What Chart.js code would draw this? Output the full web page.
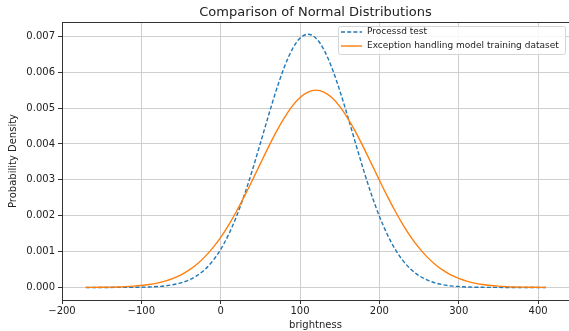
<!DOCTYPE html>
<html>
<head>
<meta charset="utf-8">
<script src="https://cdn.jsdelivr.net/npm/chart.js@4"></script>
<style>
  html, body { margin: 0; padding: 0; background: #fff; }
  canvas { display: block; }
</style>
</head>
<body>
<canvas id="normChart" width="569" height="331"></canvas>
<script>
'use strict';

// data -----------------------------------------
const brightness = [-170, -160, -150, -140, -130, -120, -110, -100, -90, -80, -70, -60, -50, -40, -30, -20, -10,
  0, 10, 20, 30, 40, 50, 60, 70, 80, 90, 100, 110, 120, 130, 140, 150, 160, 170, 180, 190, 200,
  210, 220, 230, 240, 250, 260, 270, 280, 290, 300, 310, 320, 330, 340, 350, 360, 370, 380, 390, 400, 410];

const processedTest = [0, 0.0000001, 0.0000002, 0.0000004, 0.0000009, 0.0000018, 0.0000036, 0.0000071, 0.0000134,
  0.0000247, 0.0000441, 0.0000764, 0.000128, 0.000208, 0.000328, 0.0005, 0.00074,
  0.001061, 0.001475, 0.001985, 0.002591, 0.003277, 0.004017, 0.004773, 0.005495, 0.006132, 0.006631, 0.00695,
  0.00706, 0.00695, 0.006631, 0.006132, 0.005495, 0.004773, 0.004017, 0.003277, 0.002591, 0.001985,
  0.001475, 0.001061, 0.00074, 0.0005, 0.000328, 0.000208, 0.000128, 0.0000764, 0.0000441, 0.0000247,
  0.0000134, 0.0000071, 0.0000036, 0.0000018, 0.0000009, 0.0000004, 0.0000002, 0.0000001, 0, 0, 0];

const trainingSet = [0.0000018, 0.0000032, 0.0000054, 0.0000089, 0.0000144, 0.0000229, 0.0000359, 0.0000551, 0.0000829,
  0.000122, 0.000177, 0.000252, 0.000352, 0.000482, 0.000647, 0.000852, 0.001102,
  0.001398, 0.00174, 0.002125, 0.002545, 0.002992, 0.003451, 0.003906, 0.004336, 0.004723, 0.005049, 0.005295,
  0.005448, 0.0055, 0.005448, 0.005295, 0.005049, 0.004723, 0.004336, 0.003906, 0.003451, 0.002992,
  0.002545, 0.002125, 0.00174, 0.001398, 0.001102, 0.000852, 0.000647, 0.000482, 0.000352, 0.000252,
  0.000177, 0.000122, 0.0000829, 0.0000551, 0.0000359, 0.0000229, 0.0000144, 0.0000089, 0.0000054, 0.0000032, 0.0000018];

const xTicks = [-200, -100, 0, 100, 200, 300, 400];
const yTicks = [0, 0.001, 0.002, 0.003, 0.004, 0.005, 0.006, 0.007];

const seriesNames = ['Processd test', 'Exception handling model training dataset'];
const chartTitle = 'Comparison of Normal Distributions';

// styles --------------------
const FONT = 'DejaVu Sans';
const BLUE = '#1f77b4';
const ORANGE = '#ff7f0e';
const INK = '#222';

// title, top spine and legend drawn over the plot
const overlay = {
  id: 'overlay',
  afterDraw(chart) {
    const c = chart.ctx;
    const a = chart.chartArea;
    c.save();

    // top spine
    c.strokeStyle = '#333';
    c.lineWidth = 1;
    c.beginPath();
    c.moveTo(a.left, a.top + 0.5);
    c.lineTo(a.right, a.top + 0.5);
    c.stroke();

    // title
    c.fillStyle = INK;
    c.font = '13px "' + FONT + '"';
    c.textAlign = 'center';
    c.textBaseline = 'middle';
    c.fillText(chartTitle, (a.left + a.right) / 2, 13);

    // legend
    const bx = 338, by = 26, bw = 227, bh = 28;
    c.fillStyle = 'rgba(255,255,255,0.85)';
    c.strokeStyle = '#d5d5d5';
    c.beginPath();
    c.roundRect(bx + 0.5, by + 0.5, bw, bh, 2);
    c.fill();
    c.stroke();

    const rows = [
      { label: seriesNames[0], color: BLUE, dash: [4, 2.2] },
      { label: seriesNames[1], color: ORANGE, dash: [] }
    ];
    c.font = '9px "' + FONT + '"';
    c.textAlign = 'left';
    rows.forEach((r, i) => {
      const y = 32 + i * 14;
      c.strokeStyle = r.color;
      c.lineWidth = 1.4;
      c.setLineDash(r.dash);
      c.beginPath();
      c.moveTo(341, y);
      c.lineTo(362, y);
      c.stroke();
      c.setLineDash([]);
      c.fillStyle = INK;
      c.fillText(r.label, 367, y);
    });
    c.restore();
  }
};

document.addEventListener('DOMContentLoaded', () => {
  const ctx = document.getElementById('normChart');
  new Chart(ctx, {
    type: 'line',
    data: {
      datasets: [
        {
          label: seriesNames[0],
          data: brightness.map((x, i) => ({ x: x, y: processedTest[i] })),
          borderColor: BLUE,
          borderWidth: 1.4,
          borderDash: [4, 2.2],
          pointRadius: 0,
          fill: false,
          cubicInterpolationMode: 'monotone',
          order: 1
        },
        {
          label: seriesNames[1],
          data: brightness.map((x, i) => ({ x: x, y: trainingSet[i] })),
          borderColor: ORANGE,
          borderWidth: 1.4,
          pointRadius: 0,
          fill: false,
          cubicInterpolationMode: 'monotone',
          order: 0
        }
      ]
    },
    options: {
      responsive: false,
      animation: false,
      layout: { padding: { top: 22, left: 0, right: 0, bottom: 0 } },
      plugins: {
        legend: { display: false },
        title: { display: false },
        tooltip: { enabled: false }
      },
      scales: {
        x: {
          type: 'linear',
          min: -200,
          max: 439,
          afterFit: s => { s.height = 31; },
          afterBuildTicks: s => { s.ticks = xTicks.map(v => ({ value: v })); },
          grid: { color: '#cfcfcf', lineWidth: 1, drawTicks: true, tickLength: 4, tickColor: '#333' },
          border: { display: true, color: '#333', width: 1 },
          ticks: {
            padding: 1,
            color: INK,
            font: { family: FONT, size: 10 },
            maxRotation: 0,
            callback: v => (v < 0 ? '\u2212' + Math.abs(v) : String(v))
          },
          title: {
            display: true,
            text: 'brightness',
            color: INK,
            font: { family: FONT, size: 10 },
            padding: { top: 0, bottom: 0 }
          }
        },
        y: {
          type: 'linear',
          min: -0.00035,
          max: 0.0074,
          afterFit: s => { s.width = 62; },
          afterBuildTicks: s => { s.ticks = yTicks.map(v => ({ value: v })); },
          grid: { color: '#cfcfcf', lineWidth: 1, drawTicks: true, tickLength: 4, tickColor: '#333' },
          border: { display: true, color: '#333', width: 1 },
          ticks: {
            padding: 3,
            color: INK,
            font: { family: FONT, size: 10 },
            callback: v => v.toFixed(3)
          },
          title: {
            display: true,
            text: 'Probability Density',
            color: INK,
            font: { family: FONT, size: 10 },
            padding: { top: 7, bottom: 0 }
          }
        }
      }
    },
    plugins: [overlay]
  });
});
</script>
</body>
</html>
